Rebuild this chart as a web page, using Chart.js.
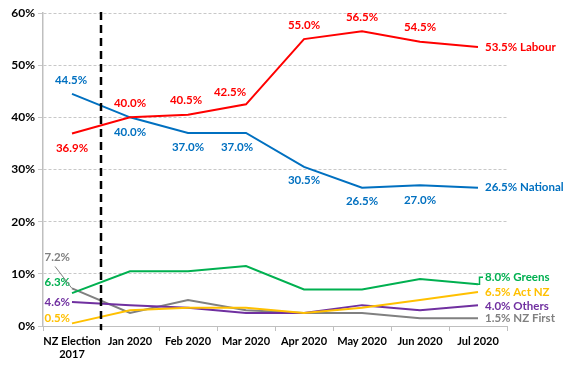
<!DOCTYPE html>
<html><head><meta charset="utf-8">
<script src="https://cdn.jsdelivr.net/npm/chart.js@4"></script>
<style>html,body{margin:0;padding:0;background:#fff}#w{width:576px;height:375px}</style>
</head><body><div id="w"><canvas id="c" width="576" height="375"></canvas></div>
<script>
// ---- data ----
const categories = [['NZ Election', '2017'], 'Jan 2020', 'Feb 2020', 'Mar 2020', 'Apr 2020', 'May 2020', 'Jun 2020', 'Jul 2020'];
const labour   = [36.9, 40.0, 40.5, 42.5, 55.0, 56.5, 54.5, 53.5];
const national = [44.5, 40.0, 37.0, 37.0, 30.5, 26.5, 27.0, 26.5];
const greens   = [6.3, 10.5, 10.5, 11.5, 7.0, 7.0, 9.0, 8.0];
const actNZ    = [0.5, 3.0, 3.5, 3.5, 2.5, 3.5, 5.0, 6.5];
const others   = [4.6, 4.0, 3.5, 2.5, 2.5, 4.0, 3.0, 4.0];
const nzFirst  = [7.2, 2.5, 5.0, 3.0, 2.5, 2.5, 1.5, 1.5];
const yTickValues = [0, 10, 20, 30, 40, 50, 60];
const seriesNames = ['Labour', 'National', 'Greens', 'Act NZ', 'Others', 'NZ First'];

// ---- styles ----
const colors = ['#ff0000', '#0070c0', '#00b050', '#ffc000', '#7030a0', '#808080'];
const FONT = 'Lato, "DejaVu Sans", sans-serif';

// label placement (offsets from the point, in px): [dx, dy, align]
const above = [0, -14, 'center'], below = [0, 15, 'center'];
const endLbl = [7, 0, 'left'];
const placements = [
  [below, above, [-2, -14, 'center'], [-16, -12, 'center'], above, above, above, endLbl],
  [[-1, -14, 'center'], below, [0, 14, 'center'], [-9, 14, 'center'], [0, 13, 'center'], [0, 14, 'center'], below, endLbl],
  [[-2, -11, 'right'], null, null, null, null, null, null, [7, -7, 'left']],
  [[-2, -5, 'right'], null, null, null, null, null, null, [7, 0, 'left']],
  [[-2, 0, 'right'], null, null, null, null, null, null, [7, 1, 'left']],
  [[-2, -31, 'right'], null, null, null, null, null, null, [7, 0, 'left']]
];

const labelPlugin = {
  id: 'labels',
  afterDatasetsDraw(chart) {
    const ctx = chart.ctx;
    ctx.save();
    ctx.font = 'bold 11.5px ' + FONT;
    ctx.textBaseline = 'middle';
    chart.data.datasets.forEach((ds, i) => {
      const meta = chart.getDatasetMeta(i);
      placements[i].forEach((p, j) => {
        if (!p) return;
        const pt = meta.data[j];
        let txt = ds.data[j].toFixed(1) + '%';
        if (j === ds.data.length - 1) txt += ' ' + seriesNames[i];
        ctx.fillStyle = colors[i];
        ctx.textAlign = p[2];
        ctx.fillText(txt, pt.x + p[0], pt.y + p[1]);
      });
    });
    // leader lines
    const nzf = chart.getDatasetMeta(5).data[0];
    ctx.strokeStyle = colors[5]; ctx.lineWidth = 1;
    ctx.beginPath(); ctx.moveTo(nzf.x - 17, nzf.y - 22); ctx.lineTo(nzf.x, nzf.y); ctx.stroke();
    const gr = chart.getDatasetMeta(2).data[7];
    ctx.strokeStyle = colors[2]; ctx.lineWidth = 1.5;
    ctx.beginPath(); ctx.moveTo(gr.x, gr.y); ctx.lineTo(gr.x + 1.5, gr.y); ctx.lineTo(gr.x + 1.5, gr.y - 7); ctx.lineTo(gr.x + 5, gr.y - 7); ctx.stroke();
    // election divider
    const xs = chart.scales.x;
    const xd = (xs.getPixelForValue(0) + xs.getPixelForValue(1)) / 2;
    ctx.strokeStyle = '#000'; ctx.lineWidth = 2.5; ctx.setLineDash([8, 5]);
    ctx.beginPath(); ctx.moveTo(xd, chart.chartArea.top - 1); ctx.lineTo(xd, chart.chartArea.bottom + 4); ctx.stroke();
    ctx.restore();
  }
};

const seriesData = [labour, national, greens, actNZ, others, nzFirst];

function build() {
  new Chart(document.getElementById('c'), {
    type: 'line',
    data: {
      labels: categories,
      datasets: seriesData.map((d, i) => ({
        label: seriesNames[i], data: d, borderColor: colors[i], backgroundColor: colors[i],
        borderWidth: 2, pointRadius: 0, tension: 0, fill: false
      }))
    },
    options: {
      responsive: false, animation: false, devicePixelRatio: 1,
      layout: { padding: { top: 13, right: 69, left: 0, bottom: 0 } },
      plugins: { legend: { display: false }, tooltip: { enabled: false } },
      scales: {
        x: {
          type: 'category', offset: true,
          grid: { offset: true, drawOnChartArea: false, drawTicks: true, tickLength: 5, color: '#bfbfbf' },
          border: { display: true, color: '#bfbfbf', width: 1 },
          ticks: { autoSkip: false, maxRotation: 0, color: '#000', padding: 4, font: { family: FONT, size: 11, weight: 'bold' } },
          afterFit: s => { s.height = 49; }
        },
        y: {
          min: 0, max: 60,
          afterBuildTicks: s => { s.ticks = yTickValues.map(v => ({ value: v })); },
          ticks: { color: '#000', padding: 3, callback: v => v + '%', font: { family: FONT, size: 12, weight: 'bold' } },
          grid: { color: '#c8c8c8', tickLength: 5, drawTicks: true },
          border: { display: true, color: '#bfbfbf', width: 1.5, dash: [3, 2] },
          afterFit: s => { s.width = 43; }
        }
      }
    },
    plugins: [labelPlugin]
  });
}
if (document.fonts && document.fonts.load) {
  Promise.all([document.fonts.load('bold 12px Lato')]).then(build, build);
} else build();
</script></body></html>
